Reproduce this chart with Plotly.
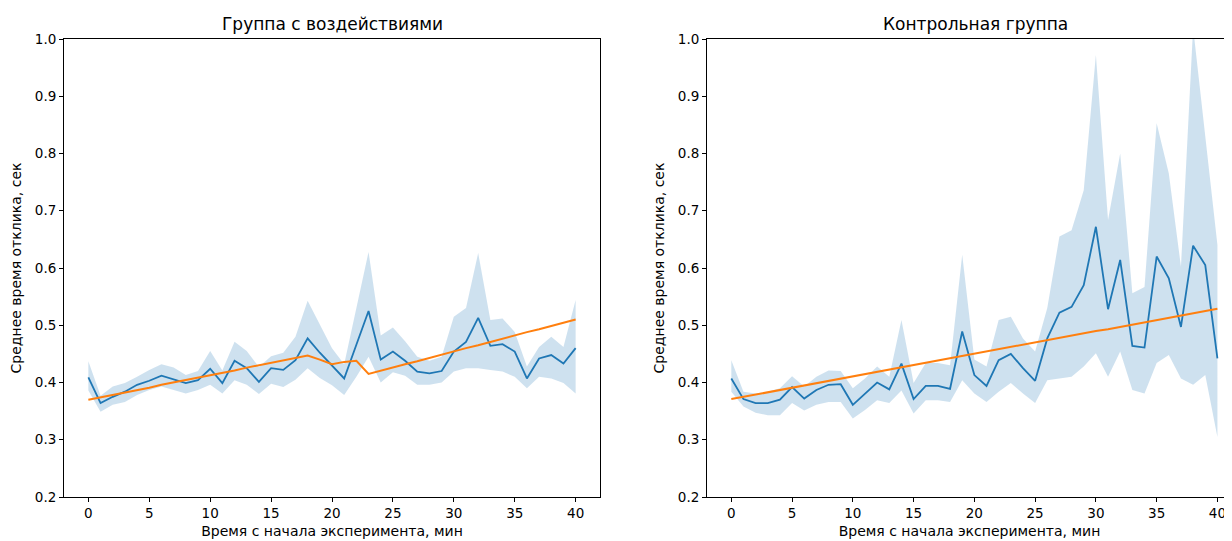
import plotly.graph_objects as go

minutes = list(range(41))

# Treatment group (left panel)
mean_t = [0.409, 0.364, 0.375, 0.384, 0.396, 0.403, 0.412, 0.406, 0.399, 0.404,
          0.424, 0.399, 0.438, 0.425, 0.401, 0.425, 0.422, 0.439, 0.477, 0.452,
          0.430, 0.407, 0.466, 0.525, 0.440, 0.454, 0.438, 0.419, 0.416, 0.420,
          0.454, 0.471, 0.513, 0.464, 0.467, 0.454, 0.407, 0.442, 0.448, 0.433,
          0.460]
upper_t = [0.437, 0.377, 0.393, 0.399, 0.410, 0.422, 0.432, 0.426, 0.413, 0.420,
           0.455, 0.421, 0.471, 0.455, 0.427, 0.446, 0.452, 0.480, 0.543, 0.502,
           0.460, 0.432, 0.530, 0.628, 0.482, 0.496, 0.472, 0.445, 0.438, 0.445,
           0.515, 0.530, 0.626, 0.509, 0.512, 0.488, 0.428, 0.462, 0.480, 0.462,
           0.544]
lower_t = [0.386, 0.349, 0.361, 0.366, 0.378, 0.387, 0.393, 0.387, 0.381, 0.387,
           0.396, 0.381, 0.404, 0.396, 0.380, 0.398, 0.392, 0.405, 0.425, 0.408,
           0.395, 0.378, 0.410, 0.445, 0.400, 0.418, 0.412, 0.396, 0.396, 0.400,
           0.419, 0.425, 0.425, 0.422, 0.419, 0.410, 0.390, 0.410, 0.407, 0.399,
           0.381]
trend_t = [0.370, 0.374, 0.379, 0.383, 0.387, 0.391, 0.396, 0.400, 0.404, 0.409,
           0.413, 0.417, 0.421, 0.426, 0.430, 0.434, 0.439, 0.443, 0.447, 0.440,
           0.432, 0.436, 0.438, 0.415, 0.421, 0.426, 0.432, 0.437, 0.443, 0.449,
           0.454, 0.460, 0.465, 0.471, 0.477, 0.482, 0.488, 0.493, 0.499, 0.505,
           0.510]

# Control group (right panel)
mean_c = [0.407, 0.371, 0.364, 0.364, 0.370, 0.392, 0.372, 0.387, 0.396, 0.397,
          0.361, 0.381, 0.400, 0.388, 0.433, 0.371, 0.394, 0.394, 0.389, 0.489,
          0.413, 0.394, 0.439, 0.450, 0.425, 0.403, 0.477, 0.522, 0.532, 0.570,
          0.672, 0.528, 0.614, 0.464, 0.461, 0.620, 0.582, 0.497, 0.639, 0.605,
          0.442]
upper_c = [0.439, 0.384, 0.381, 0.384, 0.390, 0.411, 0.393, 0.410, 0.421, 0.420,
           0.390, 0.407, 0.428, 0.410, 0.509, 0.399, 0.434, 0.434, 0.430, 0.623,
           0.440, 0.428, 0.509, 0.515, 0.477, 0.454, 0.530, 0.655, 0.666, 0.736,
           0.972, 0.684, 0.800, 0.556, 0.567, 0.853, 0.765, 0.602, 1.020, 0.835,
           0.640]
lower_c = [0.384, 0.358, 0.347, 0.343, 0.343, 0.364, 0.351, 0.361, 0.366, 0.366,
           0.337, 0.352, 0.369, 0.364, 0.386, 0.346, 0.369, 0.369, 0.366, 0.404,
           0.381, 0.366, 0.384, 0.399, 0.381, 0.364, 0.404, 0.407, 0.410, 0.428,
           0.451, 0.410, 0.454, 0.387, 0.381, 0.434, 0.448, 0.407, 0.396, 0.413,
           0.305]
trend_c = [0.371, 0.375, 0.379, 0.383, 0.387, 0.391, 0.395, 0.399, 0.403, 0.407,
           0.411, 0.414, 0.418, 0.422, 0.426, 0.430, 0.434, 0.438, 0.442, 0.446,
           0.450, 0.454, 0.458, 0.462, 0.466, 0.470, 0.474, 0.478, 0.482, 0.486,
           0.490, 0.493, 0.497, 0.501, 0.505, 0.509, 0.513, 0.517, 0.521, 0.525,
           0.529]

titles = ["Группа с воздействиями", "Контрольная группа"]
x_title = "Время с начала эксперимента, мин"
y_title = "Среднее время отклика, сек"
y_ticks = [0.2, 0.3, 0.4, 0.5, 0.6, 0.7, 0.8, 0.9, 1.0]
x_ticks = [0, 5, 10, 15, 20, 25, 30, 35, 40]

BLUE = "#1f77b4"
BAND = "rgba(31,119,180,0.22)"
ORANGE = "#ff7f0e"
FONT = "DejaVu Sans"

fig = go.Figure()

panels = [
    (mean_t, upper_t, lower_t, trend_t, "x", "y"),
    (mean_c, upper_c, lower_c, trend_c, "x2", "y2"),
]
for mean, up, lo, trend, xa, ya in panels:
    fig.add_trace(go.Scatter(x=minutes, y=lo, mode="lines", line=dict(width=0),
                             showlegend=False, hoverinfo="skip", xaxis=xa, yaxis=ya))
    fig.add_trace(go.Scatter(x=minutes, y=up, mode="lines", line=dict(width=0),
                             fill="tonexty", fillcolor=BAND, showlegend=False,
                             hoverinfo="skip", xaxis=xa, yaxis=ya))
    fig.add_trace(go.Scatter(x=minutes, y=mean, mode="lines",
                             line=dict(color=BLUE, width=1.8), showlegend=False,
                             xaxis=xa, yaxis=ya))
    fig.add_trace(go.Scatter(x=minutes, y=trend, mode="lines",
                             line=dict(color=ORANGE, width=2), showlegend=False,
                             xaxis=xa, yaxis=ya))

axis_common = dict(showline=True, linecolor="black", linewidth=1, ticks="outside",
                   ticklen=4, tickcolor="black", showgrid=False, zeroline=False,
                   tickfont=dict(family=FONT, size=13.5, color="black"))

# page body has an 8px default margin; figure is sized/offset to compensate
W, H = 1224, 533
ml, mt, mb = 56, 31, 44
pw = W - ml
left_end = 592   # right edge of left panel (figure px)
right_start = 699  # left edge of right panel (figure px)
TFONT = dict(family=FONT, size=14, color="black")
fig.update_layout(
    width=W, height=H,
    margin=dict(l=ml, r=0, t=mt, b=mb),
    plot_bgcolor="white", paper_bgcolor="white",
    font=dict(family=FONT, color="black"),
    xaxis=dict(domain=[0, (left_end - ml) / pw], range=[-2, 42], tickvals=x_ticks,
               mirror=True, anchor="y",
               title=dict(text=x_title, font=TFONT, standoff=5),
               **axis_common),
    yaxis=dict(domain=[0, 1], range=[0.2, 1.0], tickvals=y_ticks, tickformat=".1f",
               mirror=True, anchor="x",
               title=dict(text=y_title, font=TFONT, standoff=9),
               **axis_common),
    xaxis2=dict(domain=[(right_start - ml) / pw, 1.0], range=[-2, 41.2], tickvals=x_ticks,
                mirror=True, anchor="y2",
                title=dict(text=x_title, font=TFONT, standoff=5),
                **axis_common),
    yaxis2=dict(domain=[0, 1], range=[0.2, 1.0], tickvals=y_ticks, tickformat=".1f",
                mirror=False, anchor="x2",
                title=dict(text=y_title, font=TFONT, standoff=9),
                **axis_common),
    annotations=[
        dict(text=titles[0], xref="x domain", yref="paper", x=0.5, y=1.0,
             xanchor="center", yanchor="bottom", yshift=3, showarrow=False,
             font=dict(family=FONT, size=17, color="black")),
        dict(text=titles[1], x=(right_start - ml + 268) / pw, xref="paper", yref="paper", y=1.0,
             xanchor="center", yanchor="bottom", yshift=3, showarrow=False,
             font=dict(family=FONT, size=17, color="black")),
    ],
)

fig.write_html("out.html")
